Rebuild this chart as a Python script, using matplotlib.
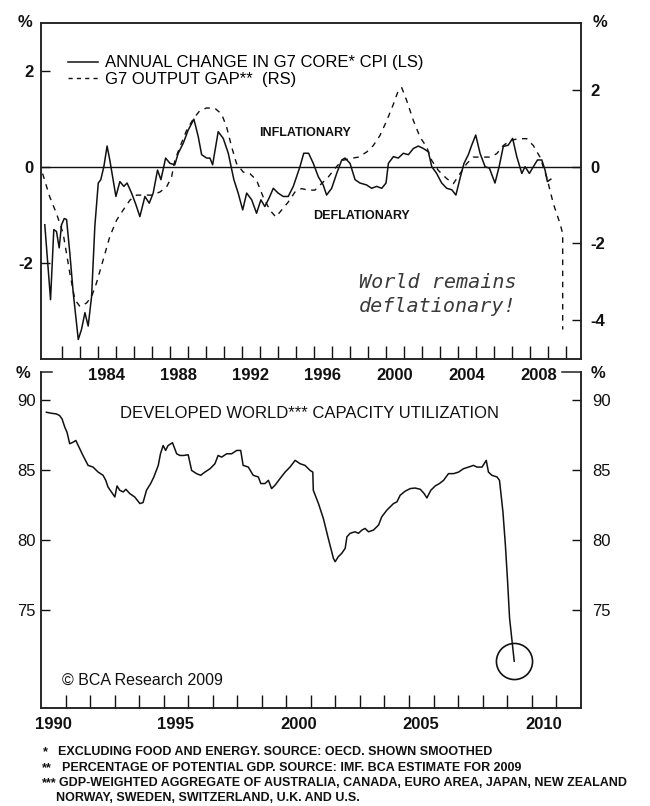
import matplotlib
matplotlib.use("Agg")
import matplotlib.pyplot as plt
from matplotlib.lines import Line2D

plt.rcParams['font.family'] = ['Liberation Sans', 'DejaVu Sans']
plt.rcParams['axes.unicode_minus'] = False

# ---- data ----
# annual change in G7 core CPI, left scale
cpi_year = [1981.07, 1981.39, 1981.57, 1981.72, 1981.87, 1982.00, 1982.15, 1982.28, 1982.46, 1982.65,
            1982.93, 1983.11, 1983.30, 1983.48, 1983.67, 1983.85, 1984.04, 1984.18, 1984.35, 1984.53,
            1984.68, 1985.02, 1985.24, 1985.46, 1985.64, 1985.89, 1986.13, 1986.35, 1986.63, 1986.87,
            1987.09, 1987.33, 1987.52, 1987.78, 1988.02, 1988.29, 1988.48, 1988.76, 1989.03, 1989.35,
            1989.59, 1989.78, 1990.06, 1990.24, 1990.39, 1990.70, 1990.98, 1991.26, 1991.57, 1991.81,
            1992.06, 1992.28, 1992.56, 1992.83, 1993.07, 1993.29, 1993.53, 1993.76, 1994.03, 1994.31,
            1994.59, 1994.87, 1995.24, 1995.45, 1995.72, 1995.98, 1996.26, 1996.53, 1996.72, 1997.00,
            1997.28, 1997.56, 1997.74, 1998.02, 1998.30, 1998.57, 1998.94, 1999.22, 1999.50, 1999.78,
            2000.02, 2000.15, 2000.43, 2000.70, 2000.98, 2001.26, 2001.54, 2001.81, 2002.09, 2002.37,
            2002.56, 2002.83, 2003.11, 2003.39, 2003.67, 2003.90, 2004.13, 2004.35, 2004.59, 2004.78,
            2005.00, 2005.24, 2005.52, 2005.76, 2006.07, 2006.30, 2006.53, 2006.81, 2007.05, 2007.28,
            2007.56, 2007.74, 2007.98, 2008.20, 2008.43, 2008.67, 2008.85, 2008.98, 2009.17]
cpi_val = [-1.21, -2.77, -1.31, -1.35, -1.69, -1.21, -1.08, -1.10, -1.80, -2.63,
           -3.60, -3.39, -3.04, -3.32, -2.70, -1.24, -0.34, -0.27, 0.00, 0.43,
           0.14, -0.62, -0.31, -0.41, -0.34, -0.55, -0.79, -1.04, -0.62, -0.76,
           -0.55, -0.07, -0.27, 0.18, 0.07, 0.04, 0.28, 0.49, 0.76, 0.99,
           0.63, 0.25, 0.18, 0.18, 0.04, 0.73, 0.59, 0.28, -0.27, -0.55,
           -0.90, -0.55, -0.69, -0.97, -0.69, -0.83, -0.65, -0.45, -0.55, -0.62,
           -0.62, -0.41, 0.00, 0.28, 0.28, 0.07, -0.21, -0.38, -0.59, -0.45,
           -0.14, 0.14, 0.18, 0.07, -0.27, -0.34, -0.38, -0.45, -0.41, -0.45,
           -0.34, 0.07, 0.21, 0.18, 0.28, 0.25, 0.38, 0.43, 0.38, 0.31,
           0.00, -0.14, -0.34, -0.45, -0.48, -0.59, -0.24, 0.07, 0.25, 0.45,
           0.66, 0.28, 0.00, -0.03, -0.34, 0.00, 0.42, 0.45, 0.59, 0.21,
           -0.14, 0.00, -0.14, 0.00, 0.14, 0.14, -0.07, -0.31, -0.26]

# G7 output gap, right scale
gap_year = [1980.95, 1981.35, 1981.72, 1982.09, 1982.46, 1982.74, 1983.02, 1983.39, 1983.67, 1983.94,
            1984.31, 1984.68, 1985.06, 1985.42, 1985.80, 1986.17, 1986.63, 1987.00, 1987.46, 1987.83,
            1988.11, 1988.29, 1988.57, 1988.94, 1989.31, 1989.68, 1990.06, 1990.52, 1990.89, 1991.17,
            1991.45, 1991.72, 1992.09, 1992.46, 1992.83, 1993.20, 1993.57, 1993.90, 1994.22, 1994.59,
            1994.96, 1995.33, 1995.70, 1996.07, 1996.44, 1996.81, 1997.18, 1997.56, 1998.02, 1998.48,
            1998.94, 1999.31, 1999.68, 2000.06, 2000.43, 2000.70, 2000.89, 2001.17, 2001.54, 2001.91,
            2002.28, 2002.56, 2002.93, 2003.39, 2003.76, 2004.13, 2004.50, 2004.87, 2005.33, 2005.80,
            2006.17, 2006.53, 2006.91, 2007.37, 2007.83, 2008.20, 2008.57, 2008.94, 2009.31, 2009.68,
            2009.83, 2009.83]
gap_val = [-0.18, -0.79, -1.22, -1.74, -2.77, -3.46, -3.64, -3.55, -3.38, -3.03,
           -2.43, -1.82, -1.39, -1.13, -0.87, -0.74, -0.74, -0.74, -0.66, -0.53,
           -0.27, 0.16, 0.51, 0.94, 1.24, 1.46, 1.53, 1.52, 1.37, 1.03,
           0.51, 0.08, -0.14, -0.18, -0.35, -0.79, -1.13, -1.31, -1.13, -0.92,
           -0.66, -0.57, -0.61, -0.61, -0.44, -0.27, -0.05, 0.16, 0.21, 0.25,
           0.38, 0.55, 0.81, 1.20, 1.63, 1.98, 2.06, 1.72, 1.20, 0.77,
           0.51, 0.16, -0.10, -0.31, -0.44, -0.18, 0.08, 0.25, 0.25, 0.25,
           0.34, 0.55, 0.68, 0.73, 0.73, 0.55, 0.25, -0.27, -0.96, -1.48,
           -1.74, -4.24]

# developed world capacity utilization
cu_year = [1990.22, 1990.42, 1990.63, 1990.76, 1990.86, 1990.97, 1991.06, 1991.17, 1991.31, 1991.42,
           1991.55, 1991.71, 1991.92, 1992.12, 1992.33, 1992.53, 1992.64, 1992.73, 1992.87, 1993.01,
           1993.10, 1993.21, 1993.35, 1993.46, 1993.62, 1993.82, 1994.03, 1994.16, 1994.30, 1994.47,
           1994.60, 1994.78, 1994.87, 1994.98, 1995.08, 1995.18, 1995.36, 1995.53, 1995.66, 1995.82,
           1996.00, 1996.14, 1996.34, 1996.51, 1996.68, 1996.89, 1997.09, 1997.22, 1997.36, 1997.57,
           1997.77, 1997.98, 1998.14, 1998.24, 1998.45, 1998.65, 1998.86, 1998.96, 1999.13, 1999.27,
           1999.40, 1999.54, 1999.74, 1999.95, 2000.15, 2000.36, 2000.56, 2000.76, 2000.97, 2001.08,
           2001.10, 2001.31, 2001.51, 2001.71, 2001.92, 2001.99, 2002.12, 2002.26, 2002.40, 2002.47,
           2002.60, 2002.80, 2002.94, 2003.08, 2003.21, 2003.35, 2003.55, 2003.76, 2003.89, 2004.10,
           2004.23, 2004.37, 2004.51, 2004.64, 2004.84, 2005.05, 2005.25, 2005.46, 2005.62, 2005.73,
           2005.89, 2006.07, 2006.24, 2006.41, 2006.61, 2006.82, 2007.02, 2007.22, 2007.43, 2007.63,
           2007.77, 2007.98, 2008.15, 2008.24, 2008.38, 2008.59, 2008.69, 2008.83, 2008.93, 2009.02,
           2009.10, 2009.29]
cu_val = [89.12, 89.05, 89.00, 88.88, 88.64, 88.05, 87.69, 86.87, 86.98, 87.10,
          86.62, 86.03, 85.32, 85.20, 84.84, 84.61, 84.25, 83.78, 83.42, 83.06,
          83.85, 83.54, 83.42, 83.61, 83.30, 83.06, 82.59, 82.66, 83.54, 84.02,
          84.49, 85.32, 86.15, 86.74, 86.39, 86.74, 86.94, 86.15, 86.03, 86.03,
          86.08, 84.96, 84.73, 84.61, 84.84, 85.08, 85.44, 86.03, 85.91, 86.15,
          86.15, 86.39, 86.39, 85.32, 85.20, 84.61, 84.49, 84.02, 84.02, 84.25,
          83.66, 83.90, 84.37, 84.84, 85.20, 85.68, 85.44, 85.32, 84.96, 84.84,
          83.54, 82.59, 81.52, 80.10, 78.67, 78.43, 78.79, 79.03, 79.39, 80.21,
          80.46, 80.57, 80.46, 80.69, 80.81, 80.57, 80.69, 81.05, 81.64, 82.12,
          82.35, 82.59, 82.71, 83.18, 83.47, 83.66, 83.70, 83.61, 83.30, 82.99,
          83.54, 83.85, 84.02, 84.25, 84.73, 84.73, 84.84, 85.08, 85.20, 85.32,
          85.20, 85.20, 85.68, 84.84, 84.61, 84.49, 84.25, 81.99, 79.62, 77.01,
          74.40, 71.31]

top_years = [1984, 1988, 1992, 1996, 2000, 2004, 2008]
bottom_years = [1990, 1995, 2000, 2005, 2010]
cpi_ticks = [-2, 0, 2]
gap_ticks = [-4, -2, 0, 2]
cu_ticks = [75, 80, 85, 90]

footnotes = [
    ("*", "EXCLUDING FOOD AND ENERGY. SOURCE: OECD. SHOWN SMOOTHED"),
    ("**", "PERCENTAGE OF POTENTIAL GDP. SOURCE: IMF. BCA ESTIMATE FOR 2009"),
    ("***", "GDP-WEIGHTED AGGREGATE OF AUSTRALIA, CANADA, EURO AREA, JAPAN, NEW ZEALAND"),
    ("", "NORWAY, SWEDEN, SWITZERLAND, U.K. AND U.S."),
]

W, H = 650.0, 806.0
def fx(px):
    return px / W
def fy(py):
    return 1 - py / H

INK = '#111111'
SPINE = '#222222'
fig = plt.figure(figsize=(6.5, 8.06), dpi=100)

L, R = 41, 580.7
ax1 = fig.add_axes([fx(L), fy(358.7), (R - L) / W, (358.7 - 22.7) / H])
ax2 = ax1.twinx()
ax3 = fig.add_axes([fx(L), fy(707.5), (R - L) / W, (707.5 - 372) / H])
ax3.set_facecolor('none')
ax4 = ax3.twinx()

for a in (ax1, ax2, ax3, ax4):
    for s in a.spines.values():
        s.set_linewidth(1.1)
        s.set_color(SPINE)

# ---- top panel ----
ax1.axhline(0, color=INK, lw=1.0)
cpi_line, = ax1.plot(cpi_year, cpi_val, color=INK, lw=1.1)
gap_line, = ax2.plot(gap_year, gap_val, color=INK, lw=1.0, ls=(0, (4, 4)))
ax1.set_xlim(1980.86, 2010.83)
ax1.set_ylim(-4, 3)
ax2.set_ylim(-5, 3.75)

ax1.set_yticks(cpi_ticks, labels=[str(t) for t in cpi_ticks], fontweight='bold', fontsize=12)
ax2.set_yticks(gap_ticks, labels=[str(t) for t in gap_ticks], fontweight='bold', fontsize=12)
ax1.tick_params(axis='y', direction='in', length=6.5, width=1.0, pad=5.5, colors=INK)
ax2.tick_params(axis='y', direction='in', length=6.5, width=1.0, pad=7, colors=INK)

ax1.set_xticks([y + 0.5 for y in top_years], labels=[str(y) for y in top_years],
               fontweight='bold', fontsize=12)
ax1.set_xticks(range(1982, 2011), minor=True)
ax1.tick_params(axis='x', which='major', length=0, pad=7, colors=INK)
ax1.tick_params(axis='x', which='minor', direction='in', length=9.4, width=1.0, color=INK)

ax1.legend([cpi_line, Line2D([], [], color=INK, lw=1.0, ls=(0, (3, 3)))],
           ['ANNUAL CHANGE IN G7 CORE* CPI (LS)', 'G7 OUTPUT GAP**  (RS)'],
           loc='upper left', bbox_to_anchor=(fx(60), fy(47)),
           bbox_transform=fig.transFigure, frameon=False, borderpad=0,
           handlelength=1.8, handletextpad=0.4, labelspacing=0.1,
           prop={'size': 12})

fig.text(fx(305), fy(132.7), 'INFLATIONARY', ha='center', va='center',
         fontsize=9, fontweight='bold', color=INK)
fig.text(fx(361.7), fy(216), 'DEFLATIONARY', ha='center', va='center',
         fontsize=9, fontweight='bold', color=INK)
fig.text(fx(438), fy(283), 'World remains', ha='center', va='center',
         family='DejaVu Sans Mono', style='italic', fontsize=14.5, color='#3a3a3a')
fig.text(fx(438), fy(307), 'deflationary!', ha='center', va='center',
         family='DejaVu Sans Mono', style='italic', fontsize=14.5, color='#3a3a3a')

# ---- bottom panel ----
ax3.plot(cu_year, cu_val, color=INK, lw=1.1)
ax3.plot(cu_year[-1], cu_val[-1], 'o', ms=26, mfc='none', mec=INK, mew=1.2)
ax3.set_xlim(1990, 2012)
for a, pad in ((ax3, 3.6), (ax4, 8)):
    a.set_ylim(68, 92)
    a.set_yticks(cu_ticks, labels=[str(t) for t in cu_ticks], fontsize=12)
    a.tick_params(axis='y', direction='in', length=6.5, width=1.0, pad=pad, colors=INK)
    a.spines['top'].set_visible(False)
ax3.set_xticks([y + 0.5 for y in bottom_years], labels=[str(y) for y in bottom_years],
               fontweight='bold', fontsize=12)
ax3.set_xticks(range(1991, 2012), minor=True)
ax3.tick_params(axis='x', which='major', length=0, pad=6.8, colors=INK)
ax3.tick_params(axis='x', which='minor', direction='in', length=9.1, width=1.0, color=INK)
# broken top frame: only short stubs at the corners
ax3.plot([0, 0.02], [1, 1], transform=ax3.transAxes, color=SPINE, lw=1.1, clip_on=False)
ax3.plot([0.9645, 1], [1, 1], transform=ax3.transAxes, color=SPINE, lw=1.1, clip_on=False)

fig.text(fx(309), fy(413.3), 'DEVELOPED WORLD*** CAPACITY UTILIZATION', ha='center',
         va='center', fontsize=12, color=INK)
fig.text(fx(61.7), fy(680), '\u00a9 BCA Research 2009', ha='left', va='center',
         fontsize=11.5, color=INK)

# percent markers
for px, py in [(25, 22.5), (600, 22.5), (23, 373), (598, 373)]:
    fig.text(fx(px), fy(py), '%', ha='center', va='center', fontsize=12,
             fontweight='bold', color=INK)

# footnotes
foot_y = [751.7, 768.3, 783.3, 798.3]
prefix_x = [43.3, 41.7, 41.5, 43.3]
body_x = [58.3, 61.7, 59.3, 56]
for (pre, body), py, x0, x1 in zip(footnotes, foot_y, prefix_x, body_x):
    if pre:
        fig.text(fx(x0), fy(py), pre, ha='left', va='center', fontsize=9,
                 fontweight='bold', color=INK)
    fig.text(fx(x1), fy(py), body, ha='left', va='center', fontsize=9,
             fontweight='bold', color=INK)

fig.savefig('out.png', dpi=100, facecolor='white')
